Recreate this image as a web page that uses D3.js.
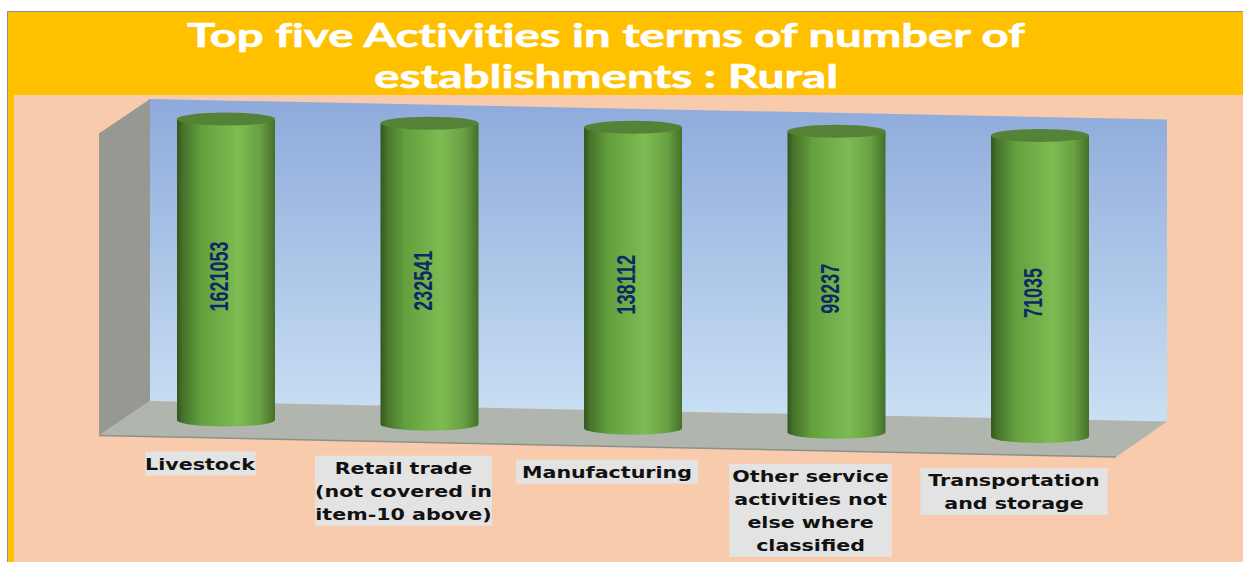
<!DOCTYPE html>
<html lang="en">
<head>
<meta charset="utf-8">
<title>Top five Activities</title>
<script src="https://d3js.org/d3.v7.min.js"></script>
<style type="text/css">
  html, body { margin: 0; padding: 0; background: #fff; }
  svg { display: block; }
  .title { font-variant-ligatures: none; }
</style>
</head>
<body>
<svg width="1243" height="562" id="svg1"></svg>
<script>
  // data
  var categories = ["Livestock", "Retail trade", "Manufacturing", "Other service", "Transportation"]
  var labelLines = [
    ["Livestock"],
    ["Retail trade", "(not covered in", "item-10 above)"],
    ["Manufacturing"],
    ["Other service", "activities not", "else where", "classified"],
    ["Transportation", "and storage"]
  ]
  var values = [1621053, 232541, 138112, 99237, 71035]
  // the picture draws every cylinder at the same height, whatever its label says
  var drawnHeights = [100, 100, 100, 100, 100]
  var titleLines = ["Top five Activities in terms of number of", "establishments : Rural"]

  var svg = d3.select("#svg1")
  var defs = svg.append("defs")

  function gradient(id, horizontal, stops) {
    var g = defs.append("linearGradient").attr("id", id)
      .attr("x1", "0").attr("y1", "0")
      .attr("x2", horizontal ? "1" : "0").attr("y2", horizontal ? "0" : "1")
    stops.forEach(function(s) {
      g.append("stop").attr("offset", s[0]).attr("stop-color", s[1])
    })
  }
  gradient("wallFill", false, [[0, "#8eaadb"], [1, "#c9e0f4"]])
  gradient("cylFill", true, [[0, "#33561e"], [0.06, "#467229"], [0.25, "#63a03e"], [0.62, "#7dbc52"], [0.85, "#68a043"], [1, "#44702a"]])

  // background panels
  svg.append("rect").attr("x", 7.5).attr("y", 11.5).attr("width", 1240).attr("height", 560)
    .attr("fill", "#ffc000").attr("stroke", "#8f8f8f").attr("stroke-width", 1)
  svg.append("rect").attr("x", 14).attr("y", 95).attr("width", 1229).attr("height", 467).attr("fill", "#f8cbad")

  var titleWidths = [838, 464]
  svg.selectAll(".title").data(titleLines).enter().append("text").attr("class", "title")
    .attr("x", 606)
    .attr("y", function(d, i) { return 47 + i * 41 })
    .attr("text-anchor", "middle")
    .attr("font-family", "Lato")
    .attr("font-weight", 700)
    .attr("font-size", 32)
    .attr("fill", "#fff")
    .attr("stroke", "#fff")
    .attr("stroke-width", 0.6)
    .attr("lengthAdjust", "spacingAndGlyphs")
    .attr("textLength", function(d, i) { return titleWidths[i] })
    .text(function(d) { return d })

  // scales
  var margin = {left: 150, right: 1167, back: 401}
  var xScale = d3.scalePoint().domain(categories).range([226, 1040])
  var yScale = d3.scaleLinear().domain([0, 100]).range([0, 301])
  // the whole chart leans downward to the right
  var lean = d3.scaleLinear().domain([margin.left, margin.right]).range([0, 20.5])
  var wallH = 302
  var depth = {x: -51, y: 34.5}

  function backY(x) { return margin.back + lean(x) }

  var pts = function(a) { return a.map(function(p) { return p.join(",") }).join(" ") }
  var l = margin.left, r = margin.right

  svg.append("polygon").attr("fill", "url(#wallFill)")
    .attr("points", pts([[l, backY(l) - wallH], [r, backY(r) - wallH], [r, backY(r)], [l, backY(l)]]))
  svg.append("polygon").attr("fill", "#959992")
    .attr("points", pts([[l, backY(l) - wallH], [l, backY(l)], [l + depth.x, backY(l) + depth.y], [l + depth.x, backY(l) + depth.y - wallH]]))
  svg.append("polygon").attr("fill", "#b0b5ad")
    .attr("points", pts([[l, backY(l)], [r, backY(r)], [r + depth.x, backY(r) + depth.y + 1], [l + depth.x, backY(l) + depth.y]]))
  svg.append("line").attr("stroke", "#8c908b").attr("stroke-width", 1.5)
    .attr("x1", l + depth.x).attr("y1", backY(l) + depth.y)
    .attr("x2", r + depth.x).attr("y2", backY(r) + depth.y + 1)

  // cylinders
  var rx = 49, ry = 6.5
  var bars = categories.map(function(c, i) {
    var cx = xScale(c)
    return {cx: cx, base: backY(cx) + 17.5, h: yScale(drawnHeights[i]), value: values[i], lines: labelLines[i]}
  })

  var cyl = svg.selectAll(".cyl").data(bars).enter().append("g").attr("class", "cyl")
  cyl.append("path")
    .attr("fill", "url(#cylFill)")
    .attr("d", function(d) {
      var top = d.base - d.h
      return "M" + (d.cx - rx) + "," + top +
        "L" + (d.cx - rx) + "," + d.base +
        "A" + rx + "," + ry + " 0 0 0 " + (d.cx + rx) + "," + d.base +
        "L" + (d.cx + rx) + "," + top + "Z"
    })
  cyl.append("ellipse")
    .attr("cx", function(d) { return d.cx })
    .attr("cy", function(d) { return d.base - d.h })
    .attr("rx", rx).attr("ry", ry)
    .attr("fill", "#568237")

  // value labels, rotated
  cyl.append("text")
    .attr("transform", function(d) { return "translate(" + (d.cx - 7) + "," + (d.base - d.h / 2 + 7) + ") rotate(-90)" })
    .attr("text-anchor", "middle")
    .attr("dominant-baseline", "central")
    .attr("font-family", "'Liberation Sans'")
    .attr("font-weight", 700)
    .attr("font-size", 26)
    .attr("fill", "#0c2a66")
    .attr("lengthAdjust", "spacingAndGlyphs")
    .attr("textLength", function(d) { return String(d.value).length * 10 })
    .text(function(d) { return d.value })

  // category labels, stretched sideways as in the picture
  var lineH = 23, stretch = 1.25
  var labelPad = [0, 0, 6, 3, 8]
  var labels = svg.selectAll(".lab").data(bars).enter().append("g").attr("class", "lab")
    .attr("transform", function(d) { return "translate(" + (d.cx - 26) + "," + (d.base + 31.5) + ")" })
  var labelBg = labels.append("rect").attr("fill", "#e3e3e3")
  labels.append("text")
    .attr("transform", "scale(" + stretch + ",1)")
    .attr("text-anchor", "middle")
    .attr("font-family", "'DejaVu Sans'")
    .attr("font-weight", 700)
    .attr("font-size", 16.5)
    .attr("fill", "#111")
    .selectAll("tspan").data(function(d) { return d.lines }).enter().append("tspan")
    .attr("x", 0)
    .attr("y", function(d, i) { return 18 + i * lineH })
    .text(function(d) { return d })
  labelBg.each(function(d, i) {
    var box = this.parentNode.querySelector("text").getBBox()
    d3.select(this)
      .attr("x", box.x * stretch - labelPad[i]).attr("width", box.width * stretch + 2 * labelPad[i])
      .attr("y", 0).attr("height", d.lines.length * lineH + 1)
  })
</script>
</body>
</html>
